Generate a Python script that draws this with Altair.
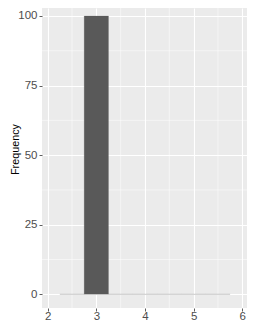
import altair as alt
import pandas as pd

bin_left = [2.25, 2.75, 3.25, 3.75, 4.25, 4.75, 5.25]
bin_right = [2.75, 3.25, 3.75, 4.25, 4.75, 5.25, 5.75]
counts = [0, 100, 0, 0, 0, 0, 0]
x_ticks = [2, 3, 4, 5, 6]
y_ticks = [0, 25, 50, 75, 100]
x_minor = [2.5, 3.5, 4.5, 5.5]
y_minor = [12.5, 37.5, 62.5, 87.5]

bars = pd.DataFrame({"left": bin_left, "right": bin_right, "count": counts})
xs = alt.Scale(domain=[1.883, 6.097], nice=False, zero=False)
ys = alt.Scale(domain=[-4.92, 102.87], nice=False, zero=False)

xaxis = alt.Axis(values=x_ticks, title=None, grid=True, gridColor="white", gridWidth=1.1,
                 tickColor="#333333", tickSize=3, tickWidth=0.8, labelFontSize=11.5,
                 labelColor="#4D4D4D", labelFont="Liberation Sans", domain=False, labelPadding=-1)
yaxis = alt.Axis(values=y_ticks, title="Frequency", grid=True, gridColor="white", gridWidth=1.1,
                 tickColor="#333333", tickSize=3, tickWidth=0.8, labelFontSize=11.5,
                 labelColor="#4D4D4D", labelFont="Liberation Sans", domain=False, labelPadding=2,
                 titleFont="Liberation Sans", titleFontSize=10.8, titleFontWeight="normal",
                 titleColor="black", titleX=-22, titleY=141, titleAlign="center",
                 titleBaseline="bottom", titleAngle=270)

minx = alt.Chart(pd.DataFrame({"v": x_minor})).mark_rule(color="white", strokeWidth=0.5).encode(
    x=alt.X("v:Q", scale=xs, axis=xaxis))
miny = alt.Chart(pd.DataFrame({"v": y_minor})).mark_rule(color="white", strokeWidth=0.5).encode(
    y=alt.Y("v:Q", scale=ys, axis=yaxis))

barc = alt.Chart(bars).mark_bar(color="#595959", stroke="#595959", strokeWidth=0.5, strokeOpacity=0.35).encode(
    x=alt.X("left:Q", scale=xs, axis=xaxis),
    x2="right:Q",
    y=alt.Y("count:Q", scale=ys, axis=yaxis),
    y2=alt.datum(0),
)

chart = alt.layer(minx, miny, barc).properties(
    width=205, height=300,
    autosize=alt.AutoSizeParams(type="none"),
    padding={"left": 34, "top": 0, "right": 0, "bottom": 20},
).configure_view(fill="#EBEBEB", stroke=None)

chart.save("out.html", embed_options={"renderer": "svg", "actions": False})
